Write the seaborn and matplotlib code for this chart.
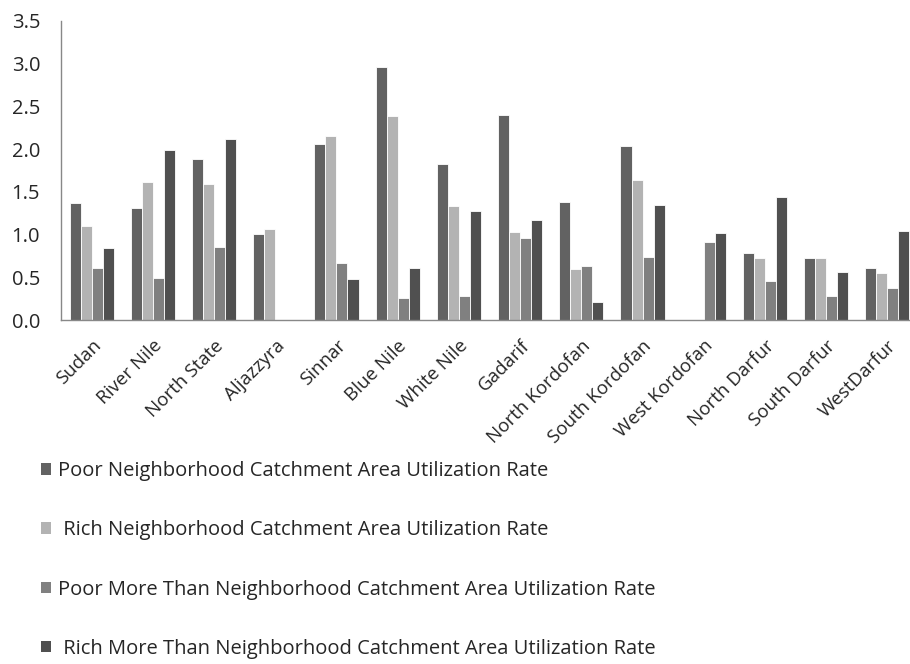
import numpy as np
import pandas as pd
import matplotlib
matplotlib.use("Agg")
import matplotlib.pyplot as plt
from matplotlib.patches import Patch
import seaborn as sns

regions = ["Sudan", "River Nile", "North State", "Aljazzyra", "Sinnar", "Blue Nile",
           "White Nile", "Gadarif", "North Kordofan", "South Kordofan", "West Kordofan",
           "North Darfur", "South Darfur", "WestDarfur"]
series_names = ["Poor Neighborhood Catchment Area Utilization Rate",
                " Rich Neighborhood Catchment Area Utilization Rate",
                "Poor More Than Neighborhood Catchment Area Utilization Rate",
                " Rich More Than Neighborhood Catchment Area Utilization Rate"]
poor_nb = [1.37, 1.31, 1.88, 1.01, 2.06, 2.96, 1.83, 2.40, 1.38, 2.04, np.nan, 0.79, 0.73, 0.61]
rich_nb = [1.10, 1.61, 1.59, 1.06, 2.155, 2.39, 1.34, 1.03, 0.60, 1.64, np.nan, 0.73, 0.725, 0.55]
poor_more = [0.61, 0.49, 0.86, np.nan, 0.67, 0.26, 0.28, 0.955, 0.63, 0.74, 0.91, 0.46, 0.28, 0.38]
rich_more = [0.84, 1.99, 2.12, np.nan, 0.475, 0.61, 1.28, 1.17, 0.21, 1.345, 1.02, 1.44, 0.56, 1.04]
colors = ["#626262", "#b3b3b3", "#808080", "#505050"]
yticks = [0.0, 0.5, 1.0, 1.5, 2.0, 2.5, 3.0, 3.5]

rows = []
for name, vals in zip(series_names, [poor_nb, rich_nb, poor_more, rich_more]):
    for r, v in zip(regions, vals):
        rows.append({"region": r, "series": name, "value": v})
df = pd.DataFrame(rows)

sns.set_style("white")
plt.rcParams["font.family"] = ["Open Sans", "DejaVu Sans"]

fig = plt.figure(figsize=(9.1, 6.64), dpi=100)
W, H = 910, 664
ax = fig.add_axes([61 / W, (H - 320) / H, 857 / W, 299 / H])

sns.barplot(data=df, x="region", y="value", hue="series", order=regions,
            hue_order=series_names, palette=colors, width=0.72, ax=ax,
            edgecolor="white", linewidth=0.6, legend=False, saturation=1)

ax.set_xlim(-0.5, len(regions) - 0.5)
ax.set_ylim(0, 3.5)
ax.set_yticks(yticks)
ax.set_yticklabels([f"{t:.1f}" for t in yticks], fontsize=14.5)
ax.set_xlabel("")
ax.set_ylabel("")
ax.set_xticks(range(len(regions)))
ax.set_xticklabels(regions, rotation=45, ha="right", rotation_mode="anchor", fontsize=13.5)
ax.set_xticks(np.arange(-0.5, len(regions), 1.0), minor=True)
ax.tick_params(axis="x", which="major", length=0, pad=12)
ax.tick_params(axis="x", which="minor", length=6, color="#888888", width=1, direction="out")
ax.tick_params(axis="y", length=5, color="#888888", width=1, direction="out", pad=10)
for s in ["top", "right"]:
    ax.spines[s].set_visible(False)
for s in ["left", "bottom"]:
    ax.spines[s].set_color("#888888")
    ax.spines[s].set_linewidth(1)
ax.grid(False)

handles = [Patch(facecolor=c, edgecolor="none") for c in colors]
fig.legend(handles, series_names, loc="upper left", bbox_to_anchor=(41 / W, 1 - 461 / H),
           frameon=False, fontsize=14.5, handlelength=0.5, handleheight=0.5,
           handletextpad=0.35, labelspacing=1.95, borderaxespad=0, borderpad=0)

fig.savefig("out.png", dpi=100)
